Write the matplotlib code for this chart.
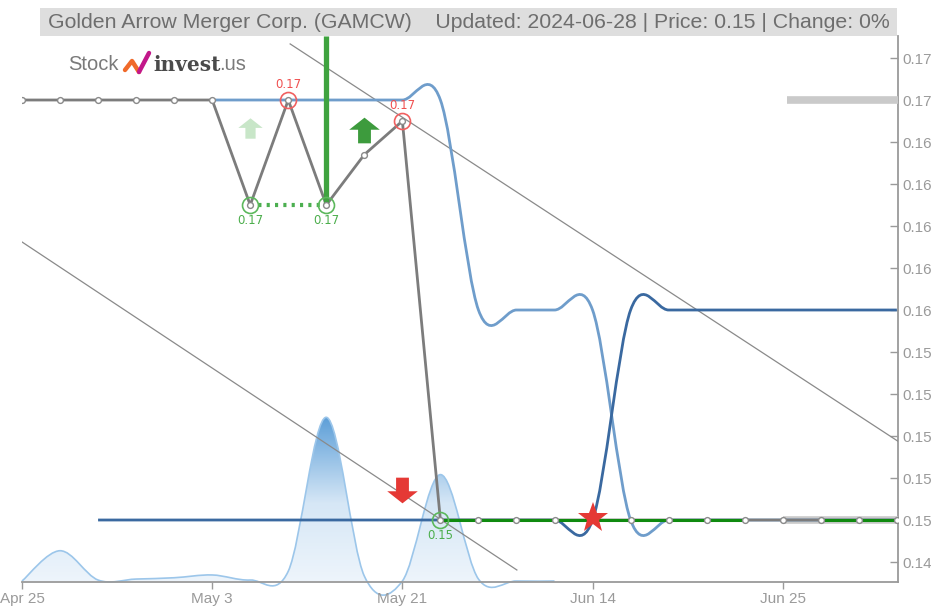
import numpy as np
import matplotlib
matplotlib.use("Agg")
import matplotlib.pyplot as plt
from matplotlib.path import Path
from matplotlib.patches import PathPatch, Rectangle
from matplotlib.lines import Line2D
from matplotlib.colors import LinearSegmentedColormap

plt.rcParams['font.family'] = ['Liberation Sans', 'DejaVu Sans']

# ---------------- data ----------------
title_text = "Golden Arrow Merger Corp. (GAMCW)    Updated: 2024-06-28 | Price: 0.15 | Change: 0%"
x_tick_pos = [0, 5, 10, 15, 20]
x_tick_labels = ["Apr 25", "May 3", "May 21", "Jun 14", "Jun 25"]
y_ticks = [0.148, 0.150, 0.152, 0.154, 0.156, 0.158, 0.160, 0.162, 0.164, 0.166, 0.168, 0.170, 0.172]

price_x = list(range(24))
price = [0.170, 0.170, 0.170, 0.170, 0.170, 0.170, 0.165, 0.170, 0.165, 0.1674, 0.1690,
         0.150, 0.150, 0.150, 0.150, 0.150, 0.150, 0.150, 0.150, 0.150, 0.150, 0.150, 0.150, 0.150]

light_x = list(range(5, 24))
light = [0.170, 0.170, 0.170, 0.170, 0.170, 0.170, 0.170,
         0.160, 0.160, 0.160, 0.160,
         0.150, 0.150, 0.150, 0.150, 0.150, 0.150, 0.150, 0.150]

dark_x = list(range(2, 24))
dark = [0.150] * 14 + [0.160] * 8

volume_x = list(range(15))
volume = [0.0, 1.85, 0.06, 0.12, 0.2, 0.37, 0.06, 0.6, 10.0, 0.3, 0.0, 6.5, 0.12, 0.0, 0.0]

green_segments = [(11, 19), (21, 23)]
green_level = 0.150

upper_trend = ([7.05, 23.03], [0.17267, 0.15375])
lower_trend = ([0.0, 13.01], [0.16324, 0.14762])

highs_x = [7, 10]
highs_y = [0.170, 0.1690]
high_labels = ["0.17", "0.17"]
lows_x = [6, 8, 11]
lows_y = [0.165, 0.165, 0.150]
low_labels = ["0.17", "0.17", "0.15"]

dotted_support = ([6, 8], [0.165, 0.165])
green_bar = (8, 0.165)           # vertical bar from this level to top
up_arrow_light = (6, 0.16867)
up_arrow_dark = (9, 0.16857)
down_arrow = (10, 0.15143)
star_pt = (15, 0.1501)
grey_bars = [((20.1, 23.03), 0.170), ((20.0, 23.03), 0.150)]

# ---------------- figure ----------------
W, H = 931, 608
fig = plt.figure(figsize=(W / 100, H / 100), dpi=100)
rect = [22 / W, 1 - 582 / H, 876 / W, 546 / H]
axv = fig.add_axes(rect)
ax = fig.add_axes(rect, sharex=axv)
ax.set_zorder(2)
ax.patch.set_visible(False)

XMAX = 23.03
ax.set_xlim(0, XMAX)
ax.set_ylim(0.147048, 0.173048)


def cr_path(xs, ys):
    P = np.column_stack([xs, ys]).astype(float)
    n = len(P)
    verts = [P[0]]
    codes = [Path.MOVETO]
    for i in range(n - 1):
        p0 = P[i - 1] if i > 0 else P[i]
        p1 = P[i]
        p2 = P[i + 1]
        p3 = P[i + 2] if i + 2 < n else P[i + 1]
        verts += [p1 + (p2 - p0) / 6, p2 - (p3 - p1) / 6, p2]
        codes += [Path.CURVE4] * 3
    return Path(verts, codes)


# ---- volume area (gradient) ----
axv.axis('off')
vtop = 10.0 * 546 / 164
axv.set_ylim(-0.06, vtop)
vp = cr_path(volume_x, volume)
fill_verts = list(vp.vertices) + [[volume_x[-1], 0.0], [volume_x[0], 0.0], [volume_x[0], volume[0]]]
fill_codes = list(vp.codes) + [Path.LINETO, Path.LINETO, Path.CLOSEPOLY]
fill_path = Path(fill_verts, fill_codes)
patch = PathPatch(fill_path, facecolor='none', edgecolor='none', clip_on=False)
axv.add_patch(patch)
cmap = LinearSegmentedColormap.from_list('vol', ['#f0f6fc', '#d6e7f6', '#5d9fd8'])
grad = np.linspace(0, 1, 256).reshape(-1, 1)
im = axv.imshow(grad, extent=[0, volume_x[-1], -0.5, max(volume)], origin='lower',
                aspect='auto', cmap=cmap, zorder=1)
im.set_clip_path(patch)
axv.add_patch(PathPatch(vp, facecolor='none', edgecolor='#9cc6ea', lw=1.2, zorder=2, clip_on=False))
axv.set_xlim(0, XMAX)

# ---- trend lines ----
ax.plot(*upper_trend, color='#8a8a8a', lw=0.9, zorder=3)
ax.plot(*lower_trend, color='#8a8a8a', lw=0.9, zorder=3)

# ---- grey range bars ----
for (x0, x1), lvl in grey_bars:
    ax.plot([x0, x1], [lvl, lvl], color='#cacaca', lw=5.5, solid_capstyle='butt', zorder=3)

# ---- blue smooth lines ----
ax.add_patch(PathPatch(cr_path(light_x, light), fill=False, edgecolor='#6f9dcb', lw=2.0, zorder=4))
ax.add_patch(PathPatch(cr_path(dark_x, dark), fill=False, edgecolor='#3a69a0', lw=2.0, zorder=4))

# ---- price line ----
ax.plot(price_x, price, color='#7c7c7c', lw=2.0, zorder=5)
for a, b in green_segments:
    ax.plot([a, b], [green_level, green_level], color='#0f8a0f', lw=2.2, zorder=6)
ax.plot(price_x, price, ls='none', marker='o', ms=4.2, mfc='white', mec='#8a8a8a', mew=1.0, zorder=7)

# ---- support dotted + green bar ----
ax.plot(*dotted_support, color='#4caf50', lw=3.0, ls=(0, (0.75, 1.25)), zorder=5)
ax.plot([green_bar[0], green_bar[0]], [green_bar[1], 0.173048], color='#3fa33f', lw=3.8,
        solid_capstyle='butt', zorder=6)

# ---- circles & labels ----
ax.plot(highs_x, highs_y, ls='none', marker='o', ms=11.5, mfc='none', mec='#f06060', mew=1.2, zorder=8)
ax.plot(lows_x, lows_y, ls='none', marker='o', ms=11.5, mfc='none', mec='#5cb85c', mew=1.2, zorder=8)
for x, y, t in zip(highs_x, highs_y, high_labels):
    ax.annotate(t, (x, y), xytext=(0, 6.5), textcoords='offset points', ha='center', va='bottom',
                color='#f05050', fontsize=8.5, family='DejaVu Sans', zorder=9)
for x, y, t in zip(lows_x, lows_y, low_labels):
    ax.annotate(t, (x, y), xytext=(0, -6.5), textcoords='offset points', ha='center', va='top',
                color='#4cae4c', fontsize=8.5, family='DejaVu Sans', zorder=9)

# ---- arrows & star ----
up_arrow = Path([(-1, 0.05), (0, 0.84), (1, 0.05), (0.42, 0.05), (0.42, -0.84),
                 (-0.42, -0.84), (-0.42, 0.05), (-1, 0.05)],
                [Path.MOVETO] + [Path.LINETO] * 6 + [Path.CLOSEPOLY])
down_arrow_path = Path(up_arrow.vertices * np.array([1, -1]), up_arrow.codes)
ax.plot(*up_arrow_light, marker=up_arrow, ms=17.5, color='#c8e6c8', mew=0, zorder=8)
ax.plot(*up_arrow_dark, marker=up_arrow, ms=22, color='#3d9b3d', mew=0, zorder=8)
ax.plot(*down_arrow, marker=down_arrow_path, ms=22, color='#e53935', mew=0, zorder=8)
ax.plot(*star_pt, marker='*', ms=23, color='#e53935', mew=0, zorder=9)

# ---- axes styling ----
for s in ['left', 'top']:
    ax.spines[s].set_visible(False)
ax.spines['right'].set_color('#9a9a9a')
ax.spines['bottom'].set_color('#9a9a9a')
ax.spines['right'].set_linewidth(1.3)
ax.spines['bottom'].set_linewidth(1.3)
ax.yaxis.tick_right()
ax.set_yticks(y_ticks)
ax.set_yticklabels([f"{v:.3f}" for v in y_ticks])
ax.tick_params(axis='y', direction='in', length=6, width=1, color='#9a9a9a',
               labelcolor='#9a9a9a', labelsize=11, pad=3)
ax.set_xticks(x_tick_pos)
ax.set_xticklabels(x_tick_labels)
ax.tick_params(axis='x', direction='out', length=5, width=1, color='#9a9a9a',
               labelcolor='#9a9a9a', labelsize=11, pad=2)

# ---- title bar ----
fig.patches.append(Rectangle((40 / W, 1 - 36 / H), 857 / W, 28 / H, transform=fig.transFigure,
                             facecolor='#dedede', edgecolor='none', zorder=0))
fig.text(468.5 / W, 1 - 22 / H, title_text, ha='center', va='center', color='#6e6e6e', fontsize=15.3)

# ---- logo ----
fig.text(68 / W, 1 - 65 / H, "Stock", ha='left', va='center', color='#7a7a7a', fontsize=14.5)
fig.text(153 / W, 1 - 65 / H, "invest", ha='left', va='center', color='#4a4a4a', fontsize=14.5,
         family='DejaVu Serif', weight='bold')
fig.text(219 / W, 1 - 65 / H, ".us", ha='left', va='center', color='#7a7a7a', fontsize=14.5)
fig.lines.append(Line2D([125 / W, 132 / W, 139 / W], [1 - 70 / H, 1 - 61 / H, 1 - 72 / H],
                        transform=fig.transFigure, color='#f06a2a', lw=3.2, solid_capstyle='round'))
fig.lines.append(Line2D([139 / W, 149 / W], [1 - 72 / H, 1 - 53 / H],
                        transform=fig.transFigure, color='#c2188a', lw=3.2, solid_capstyle='round'))

fig.savefig("out.png", dpi=100)
